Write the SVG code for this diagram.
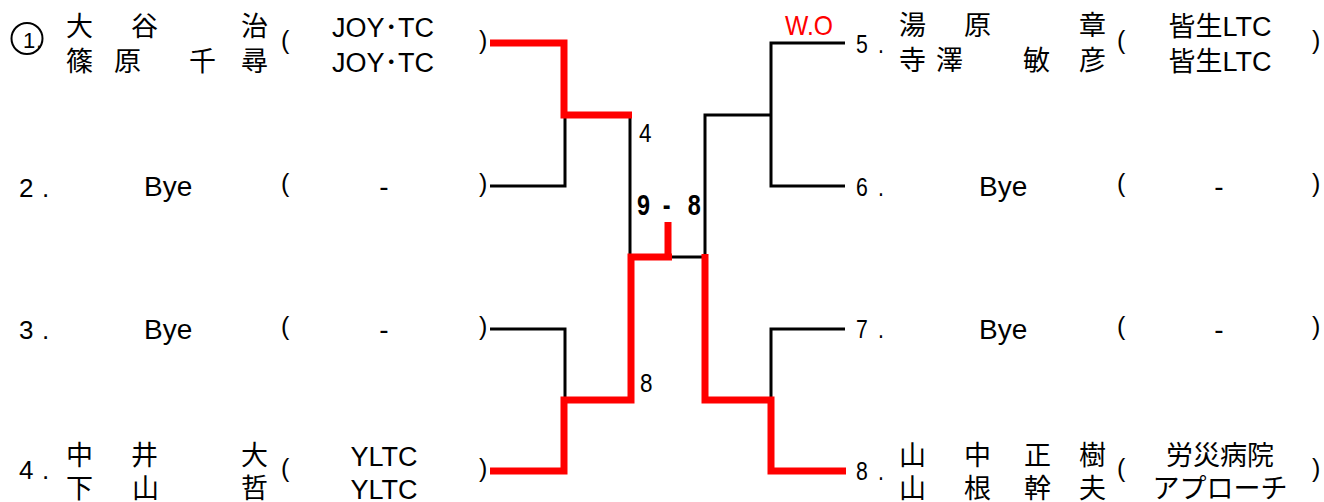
<svg xmlns="http://www.w3.org/2000/svg" width="1324" height="502" viewBox="0 0 1324 502">
<style>
.jp{font-family:"Noto Sans CJK JP","Liberation Sans",sans-serif;font-size:27px;fill:#000}
.lt{font-family:"Liberation Sans","Noto Sans CJK JP",sans-serif;font-size:27px;fill:#000}
.by{font-family:"Liberation Sans",sans-serif;font-size:28px;fill:#000}
.pr{font-family:"Liberation Sans",sans-serif;font-size:25px;fill:#000}
.nm{font-family:"Liberation Sans",sans-serif;font-size:26px;fill:#000}
.cn{font-family:"Liberation Sans",sans-serif;font-size:25px;fill:#000}
.sc{font-family:"Liberation Sans",sans-serif;font-size:30px;font-weight:bold;fill:#000}
.wo{font-family:"Liberation Sans",sans-serif;font-size:28px;fill:#f00}
.bk{fill:none;stroke:#000;stroke-width:3;stroke-linejoin:miter}
.rd{fill:none;stroke:#f00;stroke-width:7;stroke-linejoin:miter}
.mid{text-anchor:middle}
</style>
<rect width="1324" height="502" fill="#fff"/>
<g id="connectors">
<polyline class="bk" points="490,186 565,186 565,115"/>
<polyline class="bk" points="490,329 565,329 565,400"/>
<line class="bk" x1="630" y1="115" x2="630" y2="257"/>
<line class="bk" x1="670" y1="257" x2="705" y2="257"/>
<polyline class="bk" points="705,257 705,115 771,115"/>
<polyline class="bk" points="845,43 771,43 771,186 845,186"/>
<polyline class="bk" points="845,329 771,329 771,400"/>
<polyline class="rd" points="490,43 564,43 564,115 632,115"/>
<polyline class="rd" points="490,471 564,471 564,400 631,400 631,257 672,257"/>
<line class="rd" x1="668" y1="222" x2="668" y2="257"/>
<polyline class="rd" points="705,254 705,400 771,400 771,471 846,471"/>
</g>
<g id="match-labels">
<text class="cn" transform="translate(639 142) scale(0.9 1)">4</text>
<text class="cn" transform="translate(640 392) scale(0.9 1)">8</text>
<text class="sc" transform="translate(637 215) scale(0.78 1)" x="0 33 65">9-8</text>
<text class="wo" x="785" y="35" textLength="48" lengthAdjust="spacingAndGlyphs">W.O</text>
</g>
<g id="entry-1">
<circle cx="27" cy="38.5" r="15.5" fill="none" stroke="#000" stroke-width="2"/>
<text class="nm" style="font-size:22px" x="23 36" y="48">1.</text>
<text class="jp" x="66 131 241" y="36">大谷治</text>
<text class="jp" x="66 114 189 241" y="71">篠原千尋</text>
<text class="pr" x="281" y="49">(</text>
<text class="lt mid" x="383" y="37">JOY･TC</text>
<text class="lt mid" x="383" y="72">JOY･TC</text>
<text class="pr" x="479" y="49">)</text>
</g>
<g id="entry-2">
<text class="nm" x="19 42" y="197">2.</text>
<text class="by" x="144" y="196">Bye</text>
<text class="pr" x="281" y="192">(</text>
<text class="by mid" x="384" y="196">-</text>
<text class="pr" x="479" y="192">)</text>
</g>
<g id="entry-3">
<text class="nm" x="19 42" y="339">3.</text>
<text class="by" x="144" y="339">Bye</text>
<text class="pr" x="281" y="335">(</text>
<text class="by mid" x="384" y="339">-</text>
<text class="pr" x="479" y="335">)</text>
</g>
<g id="entry-4">
<text class="nm" x="19 42" y="479">4.</text>
<text class="jp" x="66 131 241" y="465">中井大</text>
<text class="jp" x="66 132 241" y="498">下山哲</text>
<text class="pr" x="281" y="477">(</text>
<text class="lt mid" x="384" y="466">YLTC</text>
<text class="lt mid" x="384" y="499">YLTC</text>
<text class="pr" x="479" y="477">)</text>
</g>
<g id="entry-5">
<text class="cn" transform="translate(856 53) scale(0.85 1)" x="0 26">5.</text>
<text class="jp" x="899 964 1079" y="35">湯原章</text>
<text class="jp" x="899 936 1023 1079" y="70">寺澤敏彦</text>
<text class="pr" x="1117" y="49">(</text>
<text class="lt mid" x="1220" y="36">皆生LTC</text>
<text class="lt mid" x="1220" y="71">皆生LTC</text>
<text class="pr" x="1312" y="49">)</text>
</g>
<g id="entry-6">
<text class="cn" transform="translate(856 196) scale(0.85 1)" x="0 26">6.</text>
<text class="by" x="979" y="196">Bye</text>
<text class="pr" x="1117" y="192">(</text>
<text class="by mid" x="1219" y="196">-</text>
<text class="pr" x="1312" y="192">)</text>
</g>
<g id="entry-7">
<text class="cn" transform="translate(856 338) scale(0.85 1)" x="0 26">7.</text>
<text class="by" x="979" y="339">Bye</text>
<text class="pr" x="1117" y="335">(</text>
<text class="by mid" x="1219" y="339">-</text>
<text class="pr" x="1312" y="335">)</text>
</g>
<g id="entry-8">
<text class="cn" transform="translate(856 480) scale(0.85 1)" x="0 26">8.</text>
<text class="jp" x="899 964 1024 1079" y="465">山中正樹</text>
<text class="jp" x="899 964 1024 1079" y="498">山根幹夫</text>
<text class="pr" x="1117" y="477">(</text>
<text class="lt mid" x="1220" y="465">労災病院</text>
<text class="lt mid" x="1220" y="498">アプローチ</text>
<text class="pr" x="1312" y="477">)</text>
</g>
</svg>
